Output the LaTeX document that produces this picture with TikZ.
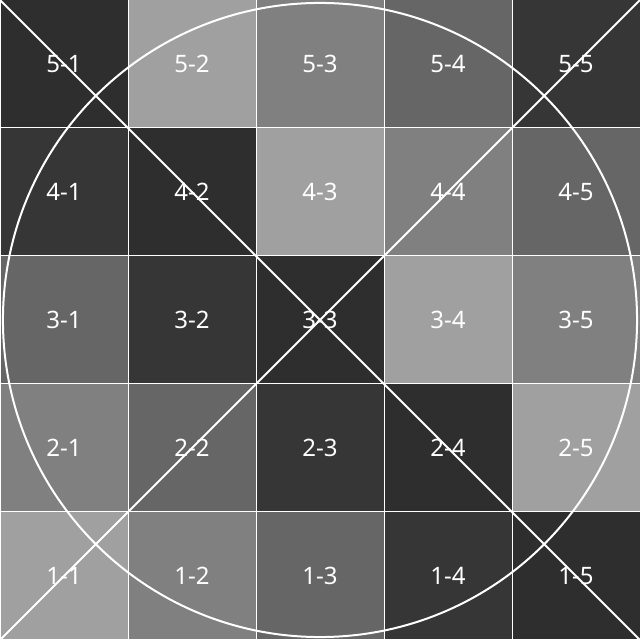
\documentclass[tikz,border=0pt]{standalone}
\usepackage{fontspec}
\setmainfont{Noto Sans}
\definecolor{shade0}{HTML}{363636}
\definecolor{shade1}{HTML}{2E2E2E}
\definecolor{shade2}{HTML}{A0A0A0}
\definecolor{shade3}{HTML}{808080}
\definecolor{shade4}{HTML}{666666}
\tikzset{
	cell/.style={draw=white, line width=1pt, minimum size=128pt, inner sep=0pt,
		text=white, font=\fontsize{24}{24}\selectfont},
	guide/.style={draw=white, line width=2pt}
}
\begin{document}
\begin{tikzpicture}[x=128pt, y=128pt]
	\useasboundingbox (0, 0) rectangle (5, 5);
	% cells
	\foreach \i in {1, ..., 5}
		\foreach \j in {1, ..., 5} {
			\pgfmathtruncatemacro{\k}{mod(\i+\j, 5)}
			\node[cell, fill=shade\k] (c\i\j) at (\j-0.5, \i-0.5) {\i-\j};
		}

	% circle
	\coordinate (mid) at (c33.center);
	\draw[guide] (mid) circle[radius=2.477];

	% diagonals
	\draw[guide] (c51.north west) -- (c15.south east);
	\draw[guide] (c11.south west) -- (c55.north east);
\end{tikzpicture}
\end{document}
